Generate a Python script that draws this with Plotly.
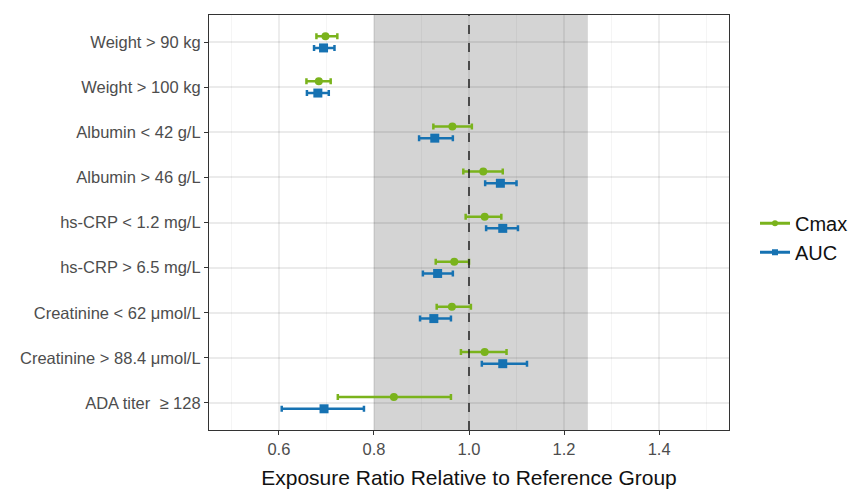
import plotly.graph_objects as go

categories = ["Weight > 90 kg", "Weight > 100 kg", "Albumin < 42 g/L", "Albumin > 46 g/L",
              "hs-CRP < 1.2 mg/L", "hs-CRP > 6.5 mg/L", "Creatinine < 62 \u03bcmol/L",
              "Creatinine > 88.4 \u03bcmol/L", "ADA titer  \u2265 128"]

cmax_est = [0.698, 0.684, 0.965, 1.030, 1.033, 0.969, 0.964, 1.033, 0.842]
cmax_lo  = [0.679, 0.658, 0.925, 0.988, 0.993, 0.930, 0.932, 0.983, 0.724]
cmax_hi  = [0.723, 0.709, 1.006, 1.071, 1.068, 1.000, 1.004, 1.079, 0.962]

auc_est = [0.694, 0.682, 0.928, 1.066, 1.071, 0.934, 0.926, 1.071, 0.695]
auc_lo  = [0.674, 0.659, 0.895, 1.034, 1.036, 0.903, 0.897, 1.027, 0.606]
auc_hi  = [0.717, 0.705, 0.966, 1.100, 1.103, 0.966, 0.962, 1.122, 0.779]

x_ticks = [0.6, 0.8, 1.0, 1.2, 1.4]
x_minor = [0.5, 0.7, 0.9, 1.1, 1.3, 1.5]
ref_band = [0.8, 1.25]
ref_line = 1.0

GREEN = "#7ab31c"
BLUE = "#1672b2"
FONT = "Liberation Sans, Arial, sans-serif"
dodge = 0.13

idx = list(range(len(categories)))

fig = go.Figure()

fig.add_trace(go.Scatter(
    x=cmax_est, y=[i - dodge for i in idx], mode="markers", name="Cmax", showlegend=False,
    marker=dict(color=GREEN, size=8, symbol="circle"),
    error_x=dict(type="data", symmetric=False,
                 array=[h - e for h, e in zip(cmax_hi, cmax_est)],
                 arrayminus=[e - l for e, l in zip(cmax_est, cmax_lo)],
                 color=GREEN, thickness=2.5, width=3),
))
fig.add_trace(go.Scatter(
    x=auc_est, y=[i + dodge for i in idx], mode="markers", name="AUC", showlegend=False,
    marker=dict(color=BLUE, size=9, symbol="square"),
    error_x=dict(type="data", symmetric=False,
                 array=[h - e for h, e in zip(auc_hi, auc_est)],
                 arrayminus=[e - l for e, l in zip(auc_est, auc_lo)],
                 color=BLUE, thickness=2.5, width=3),
))
# legend entries (line + marker glyph, as in the reference key)
fig.add_trace(go.Scatter(x=[None], y=[None], mode="lines+markers", name="Cmax",
                         line=dict(color=GREEN, width=3),
                         marker=dict(color=GREEN, size=6, symbol="circle")))
fig.add_trace(go.Scatter(x=[None], y=[None], mode="lines+markers", name="AUC",
                         line=dict(color=BLUE, width=3),
                         marker=dict(color=BLUE, size=6, symbol="square")))

fig.add_shape(type="rect", xref="x", yref="paper", x0=ref_band[0], x1=ref_band[1],
              y0=0, y1=1, fillcolor="#d4d4d4", line=dict(width=0),
              layer="below")
fig.add_shape(type="line", xref="x", yref="paper", x0=ref_line, x1=ref_line, y0=0, y1=1,
              line=dict(color="#222222", width=1.5, dash="dash"), layer="above")

fig.update_layout(
    width=851, height=484,
    margin=dict(l=201, r=128, t=6, b=59),
    paper_bgcolor="white", plot_bgcolor="white",
    font=dict(family=FONT, color="#4d4d4d", size=16.5),
    showlegend=True,
    legend=dict(x=1.05, y=0.463, xanchor="left", yanchor="middle",
                font=dict(size=20, color="#111111"), tracegroupgap=0,
                itemwidth=30, bgcolor="rgba(0,0,0,0)"),
)

fig.update_xaxes(
    range=[0.453, 1.547], tickvals=x_ticks, ticktext=["0.6", "0.8", "1.0", "1.2", "1.4"],
    showgrid=True, gridcolor="rgba(0,0,0,0.07)", gridwidth=1.6,
    minor=dict(showgrid=True, gridcolor="rgba(0,0,0,0.04)", gridwidth=0.9,
               tickmode="array", tickvals=x_minor),
    ticks="outside", ticklen=4, tickcolor="#333333", tickwidth=1.2,
    showline=True, linecolor="#333333", linewidth=1.2, mirror=True,
    zeroline=False,
    title=dict(text="Exposure Ratio Relative to Reference Group", font=dict(size=21, color="#111111"), standoff=13),
    tickfont=dict(size=16.5, color="#4d4d4d"),
)
fig.update_yaxes(
    range=[8.6, -0.6], tickvals=idx, ticktext=categories,
    showgrid=True, gridcolor="rgba(0,0,0,0.08)", gridwidth=1.8,
    ticks="outside", ticklen=4, tickcolor="#333333", tickwidth=1.2,
    showline=True, linecolor="#333333", linewidth=1.2, mirror=True,
    zeroline=False,
    tickfont=dict(size=16.5, color="#4d4d4d"),
)

fig.write_html("out.html")
